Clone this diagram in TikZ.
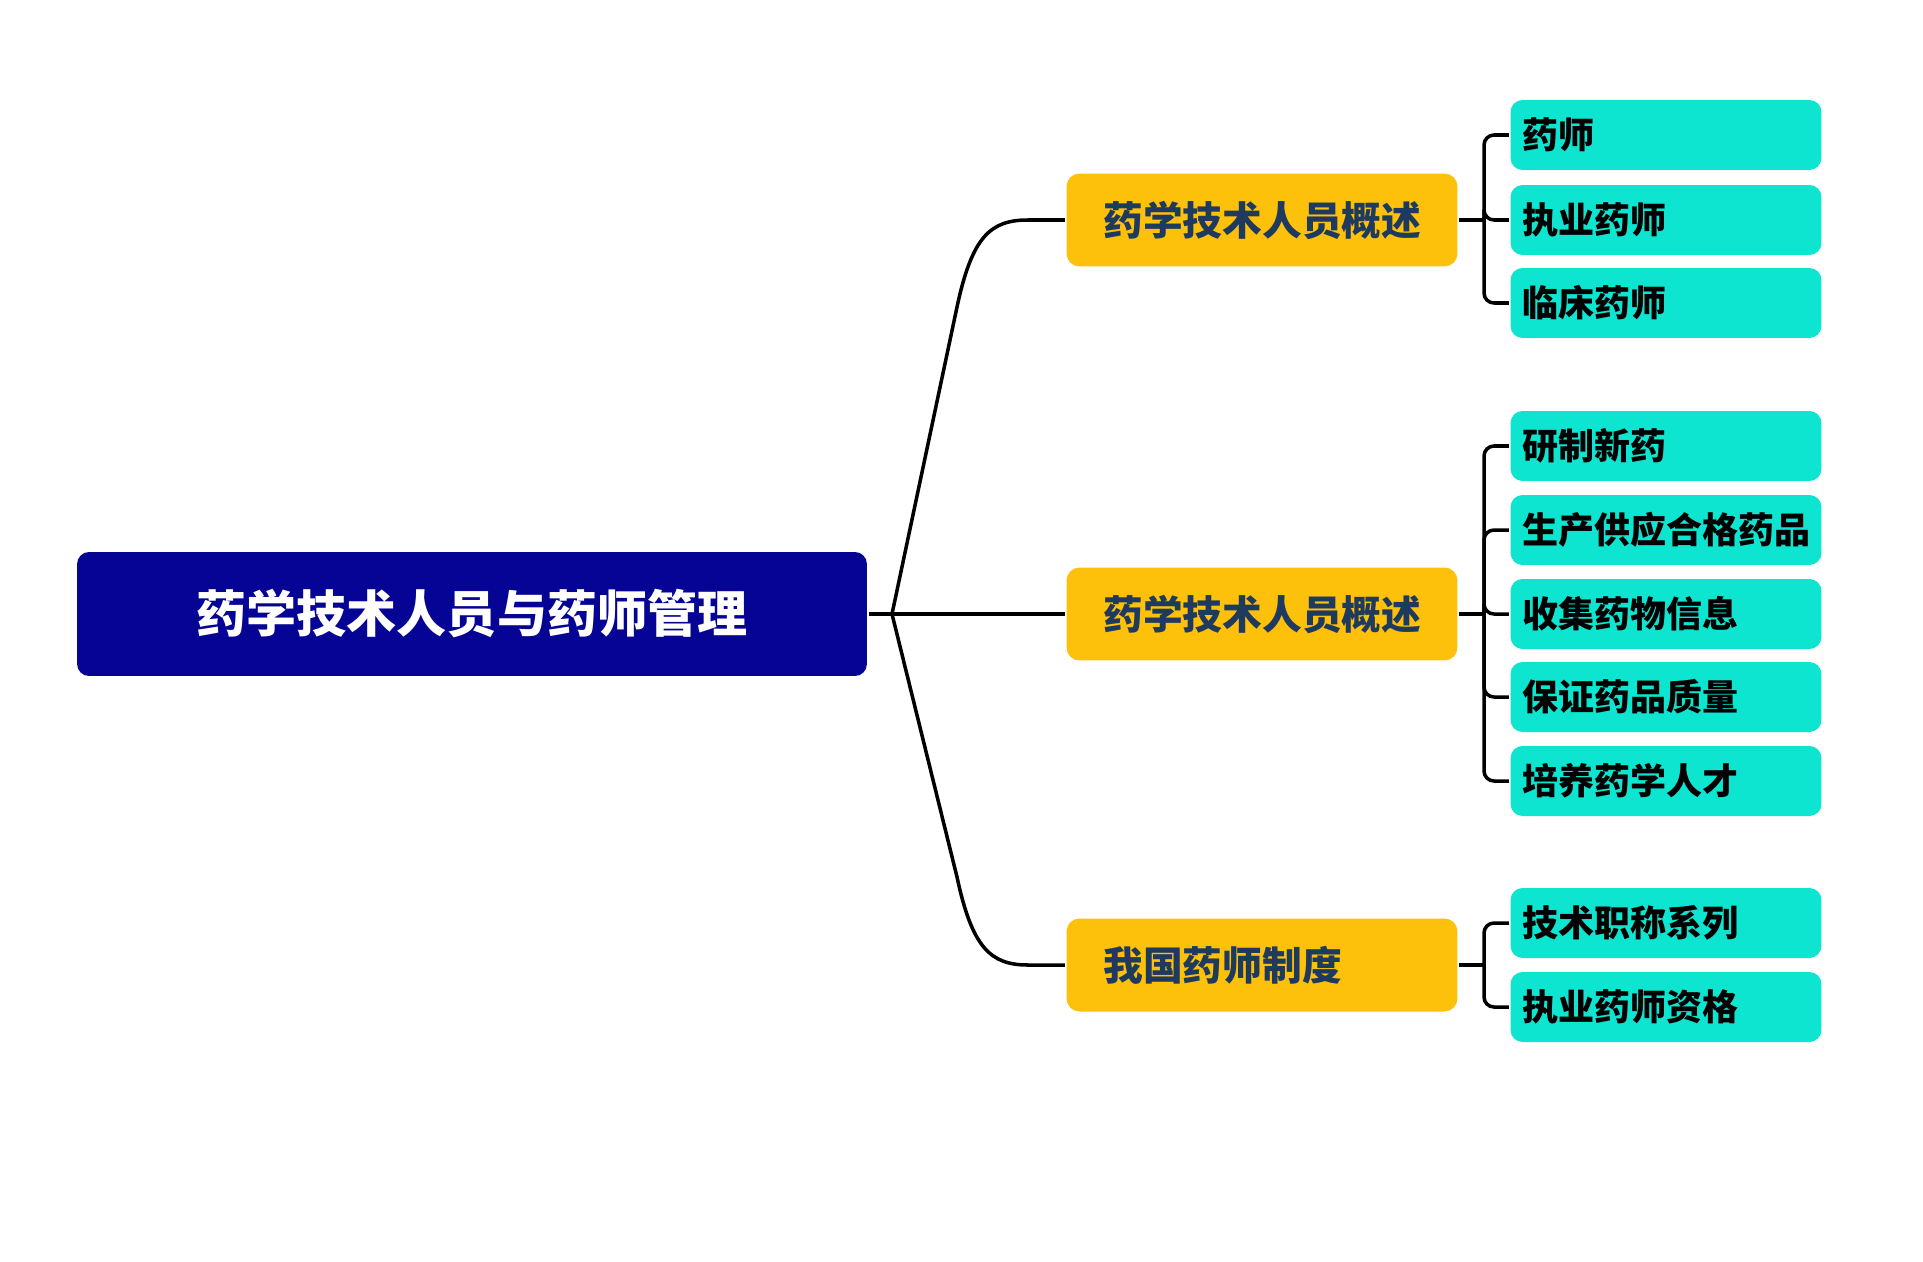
\documentclass[tikz,border=0pt]{standalone}
\usepackage{fontspec}
\setmainfont{Noto Sans CJK SC}
\usepackage{tikz}
\usetikzlibrary{positioning, calc}
\definecolor{rootc}{HTML}{050494}
\definecolor{topicc}{HTML}{FDC00B}
\definecolor{leafc}{HTML}{0DE5D1}
\definecolor{navy}{HTML}{1E3A5F}

\begin{document}
\begin{tikzpicture}[x=0.02cm, y=-0.02cm, line width=2pt,
          rootbox/.style={fill=rootc, text=white, rounded corners=0.24cm,
            minimum width=15.8cm, minimum height=2.48cm, inner sep=0pt,
            font=\fontsize{28.5}{32}\selectfont\bfseries},
          topic/.style={fill=topicc, text=navy, rounded corners=0.26cm,
            text width=6.34cm, align=left, inner xsep=0.74cm, inner ysep=0pt,
            minimum height=1.86cm,
            font=\fontsize{22.6}{26}\selectfont\bfseries},
          leaf/.style={fill=leafc, text=black, rounded corners=0.24cm,
            text width=5.74cm, align=left, inner xsep=0.24cm, inner ysep=0pt,
            minimum height=1.4cm,
            font=\fontsize{20.5}{24}\selectfont\bfseries}]
        \useasboundingbox (0,0) rectangle (1923,1261);
        \node[rootbox] (root) at (472,614) {药学技术人员与药师管理};
        \coordinate (hub) at (892,614);
        \draw (root.east) -- (hub);
        \foreach \i/\y/\t in {1/220/药学技术人员概述, 2/614/药学技术人员概述,
                              3/965/我国药师制度}{
          \node[topic] (t\i) at (1262,\y) {\t};
          \coordinate (b\i) at (1484,\y);
          \draw (t\i.east) -- (b\i);
        }
        \draw (hub) -- (957,307) .. controls (972,237) and (990,220) .. (1028,220)
              -- (t1.west);
        \draw (hub) -- (t2.west);
        \draw (hub) -- (957,877) .. controls (972,947) and (990,965) .. (1028,965)
              -- (t3.west);
        \foreach \j/\y/\p/\t in {a/135/1/药师, b/220/1/执业药师, c/303/1/临床药师,
            d/446/2/研制新药, e/530/2/生产供应合格药品, f/614/2/收集药物信息,
            g/697/2/保证药品质量, h/781/2/培养药学人才,
            k/923/3/技术职称系列, m/1007/3/执业药师资格}{
          \node[leaf] (l\j) at (1666,\y) {\t};
          \draw[rounded corners=0.2cm] (b\p) |- (l\j.west);
        }
      \end{tikzpicture}
\end{document}
